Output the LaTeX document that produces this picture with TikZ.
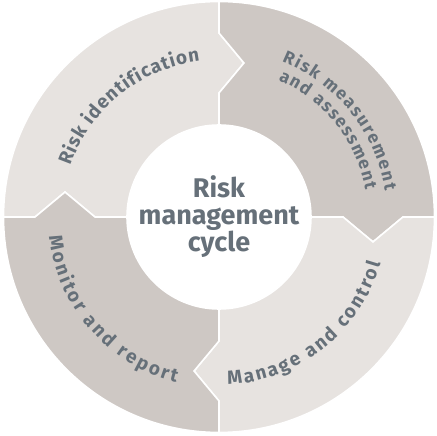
\documentclass[tikz,border=0pt]{standalone}
\usepackage{fontspec}
\setmainfont{Fira Sans}
\usetikzlibrary{decorations.text}
\definecolor{RingLight}{HTML}{E7E3E0}
\definecolor{RingDark}{HTML}{CEC8C4}
\definecolor{RingText}{HTML}{667079}
\newcommand\ringfont{\bfseries\fontsize{19}{19}\selectfont}
\newcommand\ringfontsmall{\bfseries\fontsize{17.5}{17.5}\selectfont}

\begin{document}
\begin{tikzpicture}[x=1pt, y=1pt,
        segment/.style={draw=white, line width=1.6pt, line join=miter},
        ringlabel/.style={decorate, decoration={text along path, text={#1},
            text align={fit to path}, text color=RingText}},
        hub/.style={font=\bfseries\fontsize{27}{27}\selectfont, text=RingText, align=center}]
        \useasboundingbox (-219,-219) rectangle (218,217);
        \foreach \s/\c in {180/RingLight, 90/RingDark, 0/RingLight, 270/RingDark}
            \draw[segment, fill=\c] (\s:215.5) arc[start angle=\s, end angle=\s-90, radius=215.5]
                -- (\s-90:184) -- (\s-99.2:156) -- (\s-90:124) -- (\s-90:92)
                arc[start angle=\s-90, end angle=\s, radius=92]
                -- (\s:124) -- (\s-9.2:156) -- (\s:184) -- cycle;

        \node[hub] (cycle) at (0,0) {Risk\\management\\cycle};

        \path[ringlabel={|\ringfont|Risk identification}] (161:157) arc[start angle=161, end angle=97, radius=157];
        \path[ringlabel={|\ringfontsmall|Risk measurement}] (68:168) arc[start angle=68, end angle=9, radius=168];
        \path[ringlabel={|\ringfontsmall|and assessment}] (66.5:149) arc[start angle=66.5, end angle=10.5, radius=149];
        \path[ringlabel={|\ringfont|Manage and control}] (273:168) arc[start angle=273, end angle=344, radius=168];
        \path[ringlabel={|\ringfont|Monitor and report}] (186.5:171) arc[start angle=186.5, end angle=255.5, radius=171];
    \end{tikzpicture}
\end{document}
